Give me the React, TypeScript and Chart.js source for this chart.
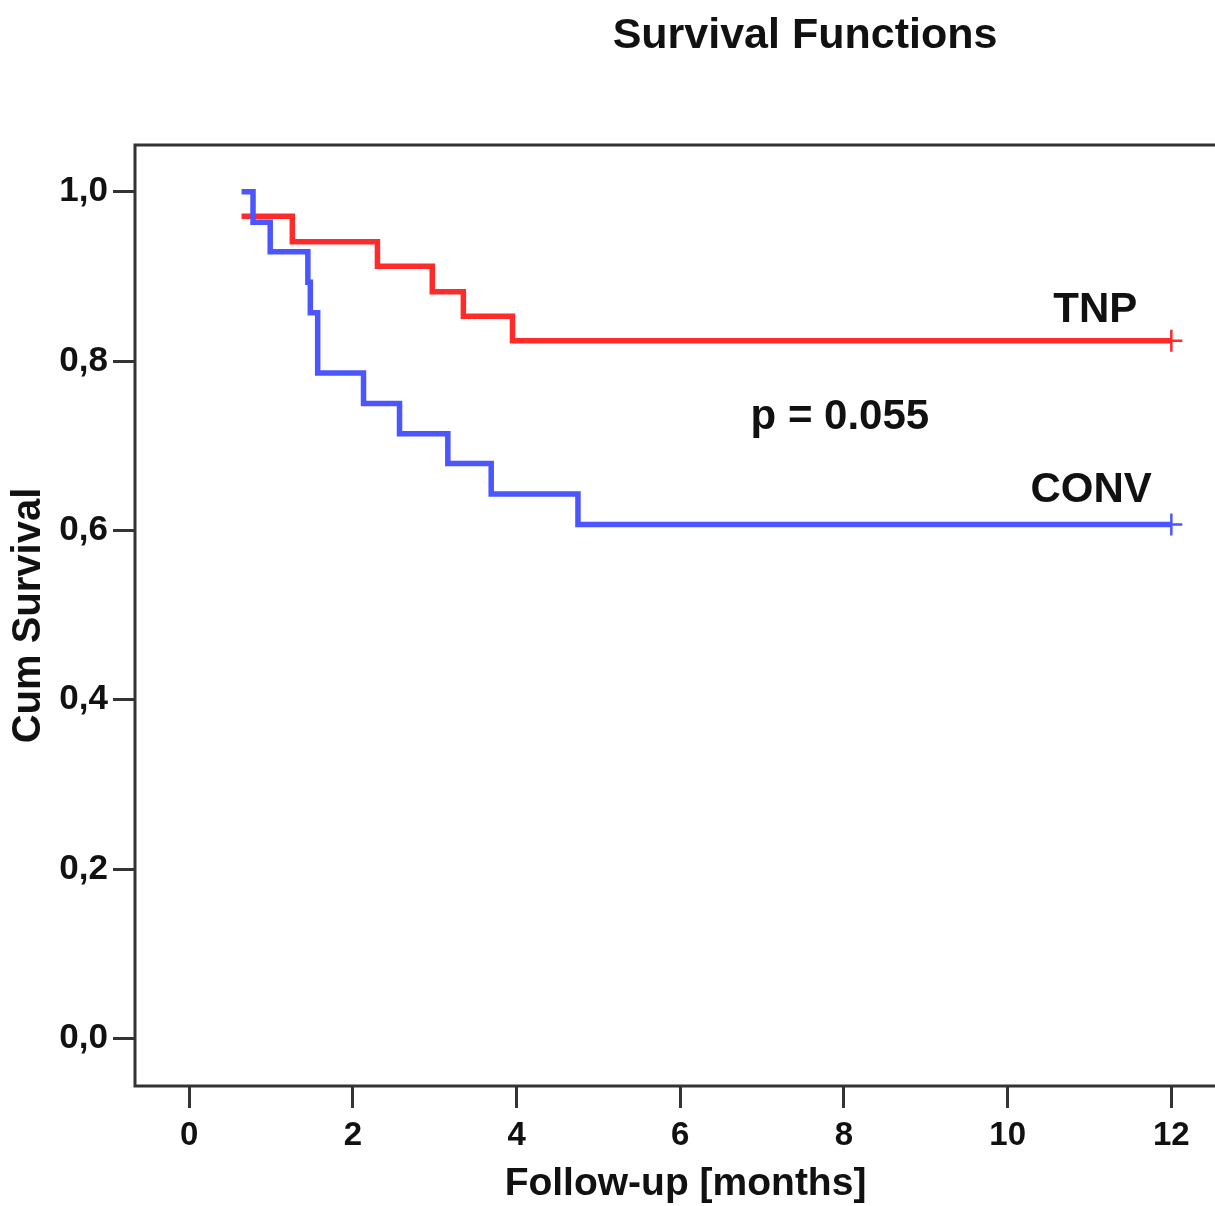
import React, { useEffect, useRef } from "react";
import { Chart, registerables } from "chart.js";

Chart.register(...registerables);

// ---- Text ----
const CHART_TITLE = "Survival Functions";
const X_TITLE = "Follow-up [months]";
const Y_TITLE = "Cum Survival";

// ---- Tick values ----
const X_TICKS = [0, 2, 4, 6, 8, 10, 12];
const Y_TICKS = [0, 0.2, 0.4, 0.6, 0.8, 1.0];

// ---- Kaplan-Meier step data (time in months, cumulative survival) ----
const CONV_TIMES = [0.64, 0.78, 0.99, 1.45, 1.48, 1.57, 2.13, 2.57, 3.16, 3.69, 4.75, 12.0];
const CONV_SURV = [1.0, 0.964, 0.929, 0.893, 0.857, 0.786, 0.75, 0.714, 0.679, 0.643, 0.607, 0.607];

const TNP_TIMES = [0.64, 1.26, 2.3, 2.97, 3.35, 3.95, 12.0];
const TNP_SURV = [0.971, 0.941, 0.912, 0.882, 0.853, 0.824, 0.824];

// ---- In-plot labels (data coordinates) ----
const LABEL_TEXTS = ["TNP", "CONV", "p = 0.055"];
const LABEL_X = [11.07, 11.02, 7.95];
const LABEL_Y = [0.846, 0.634, 0.72];

const FONT = "'Liberation Sans', Arial, Helvetica, sans-serif";
const RED = "#ff2a2a";
const BLUE = "#4b56ff";
const AXIS = "#333333";

const CANVAS_W = 1250;
const CANVAS_H = 1206;

export default function App() {
  const ref = useRef<HTMLCanvasElement | null>(null);

  useEffect(() => {
    const canvas = ref.current;
    if (!canvas) return;

    const mkPts = (xs: number[], ys: number[]) => xs.map((x, i) => ({ x, y: ys[i] }));
    const censor = (n: number) => Array.from({ length: n }, (_, i) => (i === n - 1 ? 11 : 0));

    const framePlugin = {
      id: "frame",
      afterDraw(chart: any) {
        const { ctx, chartArea } = chart;
        ctx.save();
        ctx.strokeStyle = AXIS;
        ctx.lineWidth = 3;
        ctx.strokeRect(chartArea.left, chartArea.top, chartArea.right - chartArea.left, chartArea.bottom - chartArea.top);
        ctx.restore();
      },
    };

    const textPlugin = {
      id: "texts",
      afterDraw(chart: any) {
        const { ctx, scales } = chart;
        ctx.save();
        ctx.fillStyle = "#111";
        ctx.textAlign = "center";
        ctx.textBaseline = "alphabetic";
        ctx.font = `bold 43px ${FONT}`;
        ctx.fillText(CHART_TITLE, 805, 48);
        ctx.font = `bold 42px ${FONT}`;
        LABEL_TEXTS.forEach((t, i) => {
          const px = scales.x.getPixelForValue(LABEL_X[i]);
          const py = scales.y.getPixelForValue(LABEL_Y[i]);
          ctx.fillText(t, px, py);
        });
        ctx.restore();
      },
    };

    const chart = new Chart(canvas, {
      type: "line",
      data: {
        datasets: [
          {
            label: "CONV",
            data: mkPts(CONV_TIMES, CONV_SURV),
            borderColor: BLUE,
            backgroundColor: BLUE,
            borderWidth: 5.5,
            stepped: "before",
            pointStyle: "cross",
            pointRadius: censor(CONV_TIMES.length),
            pointBorderWidth: 2.5,
            pointBorderColor: BLUE,
            borderJoinStyle: "miter",
            borderCapStyle: "butt",
            fill: false,
          },
          {
            label: "TNP",
            data: mkPts(TNP_TIMES, TNP_SURV),
            borderColor: RED,
            backgroundColor: RED,
            borderWidth: 5.5,
            stepped: "before",
            pointStyle: "cross",
            pointRadius: censor(TNP_TIMES.length),
            pointBorderWidth: 2.5,
            pointBorderColor: RED,
            borderJoinStyle: "miter",
            borderCapStyle: "butt",
            fill: false,
          },
        ],
      },
      options: {
        responsive: false,
        animation: false,
        devicePixelRatio: 1,
        layout: { padding: { top: 145, right: CANVAS_W - 1236, bottom: 0, left: 0 } },
        plugins: {
          legend: { display: false },
          tooltip: { enabled: false },
          title: { display: false },
        },
        scales: {
          x: {
            type: "linear",
            min: -0.662,
            max: 12.79,
            afterFit(scale: any) {
              scale.height = 120;
            },
            afterBuildTicks(scale: any) {
              scale.ticks = X_TICKS.map((v) => ({ value: v }));
            },
            border: { display: false },
            grid: {
              drawOnChartArea: false,
              drawTicks: true,
              tickLength: 22,
              tickWidth: 3,
              tickColor: AXIS,
            },
            ticks: {
              color: "#111",
              font: { family: FONT, size: 33, weight: "bold" },
              padding: 8,
              maxRotation: 0,
              autoSkip: false,
              callback: (v: any) => String(v),
            },
            title: {
              display: true,
              text: X_TITLE,
              color: "#111",
              font: { family: FONT, size: 39, weight: "bold" },
              padding: { top: 0, bottom: -2 },
            },
          },
          y: {
            type: "linear",
            min: -0.0563,
            max: 1.0552,
            afterFit(scale: any) {
              scale.width = 135;
            },
            afterBuildTicks(scale: any) {
              scale.ticks = Y_TICKS.map((v) => ({ value: v }));
            },
            border: { display: false },
            grid: {
              drawOnChartArea: false,
              drawTicks: true,
              tickLength: 22,
              tickWidth: 3,
              tickColor: AXIS,
            },
            ticks: {
              color: "#111",
              font: { family: FONT, size: 35, weight: "bold" },
              padding: 5,
              autoSkip: false,
              callback: (v: any) => Number(v).toFixed(1).replace(".", ","),
            },
            title: {
              display: true,
              text: Y_TITLE,
              color: "#111",
              font: { family: FONT, size: 40, weight: "bold" },
              padding: { top: 5, bottom: 0 },
            },
          },
        },
      },
      plugins: [framePlugin, textPlugin],
    } as any);

    return () => chart.destroy();
  }, []);

  return (
    <div
      style={{
        position: "absolute",
        left: 0,
        top: 0,
        width: 1215,
        height: 1206,
        overflow: "hidden",
        background: "#fff",
      }}
    >
      <canvas
        ref={ref}
        width={CANVAS_W}
        height={CANVAS_H}
        style={{ width: CANVAS_W, height: CANVAS_H, display: "block" }}
      />
    </div>
  );
}
